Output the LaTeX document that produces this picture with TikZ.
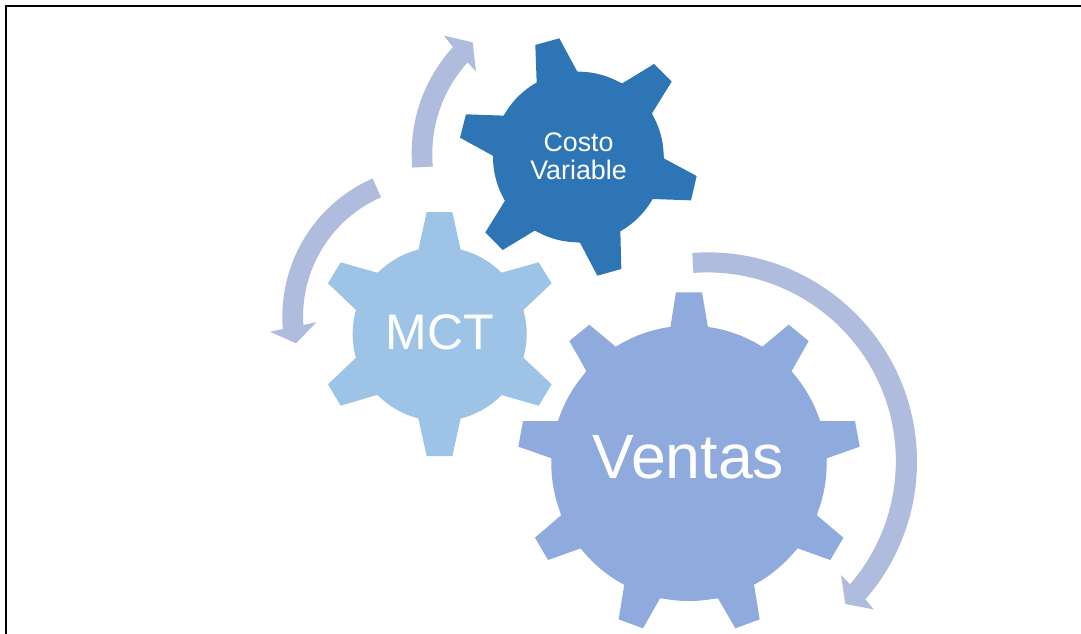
\documentclass[tikz,border=0pt]{standalone}
\usepackage{fontspec}
\setmainfont{Liberation Sans}
\definecolor{gearDark}{HTML}{2E75B6}
\definecolor{gearLight}{HTML}{9DC3E6}
\definecolor{gearMid}{HTML}{8FAADC}
\definecolor{arcArrow}{HTML}{B0BCDD}
\tikzset{
  geartext/.style={text=white,inner sep=0pt,anchor=base},
  arcshape/.style={fill=arcArrow,draw=none},
  framed/.style={draw=black,line width=2pt,line cap=butt,line join=miter}
}
\begin{document}
\begin{tikzpicture}[x=1pt,y=-1pt]
\useasboundingbox (0,0) rectangle (1081,634);
\fill[white] (0,0) rectangle (1081,634);
\draw[framed] (6,634) -- (6,6) -- (1081,6);

% Costo Variable gear
\begin{scope}[shift={(400,20)},scale=1/3]
\fill[gearDark] (406,75)--(478,55)--(532,155)--(667,190)--(762,132)--(815,185)--(756,280)--(793,416)--(890,468)--(873,541)--(757,537)--(661,633)--(664,747)--(592,767)--(540,668)--(404,632)--(308,690)--(256,637)--(315,542)--(280,408)--(180,353)--(198,283)--(313,287)--(410,188)--cycle;
\fill[gearDark] (535,411) circle[radius=256];
% upper arc arrow
\fill[arcshape] (507,400) ++(174.8:472) arc[start angle=174.8,end angle=222.5,radius=472]
  -- (132,47) -- (218,67) -- (228,155) -- (203,127)
  arc[start angle=222.2,end angle=174.8,radius=410] -- cycle;
\end{scope}

% MCT gear
\begin{scope}[shift={(250,170)},scale=1/3]
\fill[gearLight] (530,126)--(607,126)--(632,240)--(755,308)--(866,277)--(905,340)--(820,420)--(820,563)--(905,643)--(866,707)--(755,675)--(632,745)--(607,858)--(530,858)--(505,745)--(381,675)--(272,707)--(234,643)--(318,563)--(318,420)--(234,340)--(272,277)--(381,308)--(505,240)--cycle;
\fill[gearLight] (569,492) circle[radius=261];
% left arc arrow
\fill[arcshape] (550,440) ++(246.3:453) arc[start angle=246.3,end angle=175.3,radius=453]
  -- (60,485) -- (138,520) -- (200,456) -- (160,465)
  arc[start angle=176.3,end angle=246.3,radius=391] -- cycle;
\end{scope}

% Ventas gear
\begin{scope}[shift={(500,240)},scale=1/3]
\fill[gearMid] (528,157)--(606,157)--(624,262)--(787,320)--(866,254)--(926,303)--(875,393)--(960,543)--(1065,543)--(1079,620)--(980,655)--(951,826)--(1030,893)--(991,960)--(893,925)--(762,1033)--(779,1138)--(706,1165)--(654,1075)--(480,1075)--(429,1165)--(356,1138)--(373,1033)--(242,925)--(144,960)--(105,893)--(183,826)--(155,655)--(55,620)--(69,543)--(175,543)--(259,393)--(208,303)--(268,254)--(347,320)--(511,262)--cycle;
\fill[gearMid] (567,670) circle[radius=413];
% right arc arrow
\fill[arcshape] (623,665) ++(-94.2:628) arc[start angle=-94.2,end angle=41.1,radius=628]
  -- (1121,1108) -- (1036,1092) -- (1023,1005) -- (1050,1033)
  arc[start angle=40.8,end angle=-94.2,radius=566] -- cycle;
\end{scope}

\node[text=white,inner sep=0pt,align=center,font=\fontsize{26.8}{28.3}\selectfont] (costo) at (578.5,156) {Costo\\Variable};
\node[geartext,font=\fontsize{50}{56}\selectfont] (mct) at (440,349.3) {MCT};
\node[geartext,font=\fontsize{62.6}{70}\selectfont] (ventas) at (688.5,478.7) {Ventas};
\end{tikzpicture}
\end{document}
